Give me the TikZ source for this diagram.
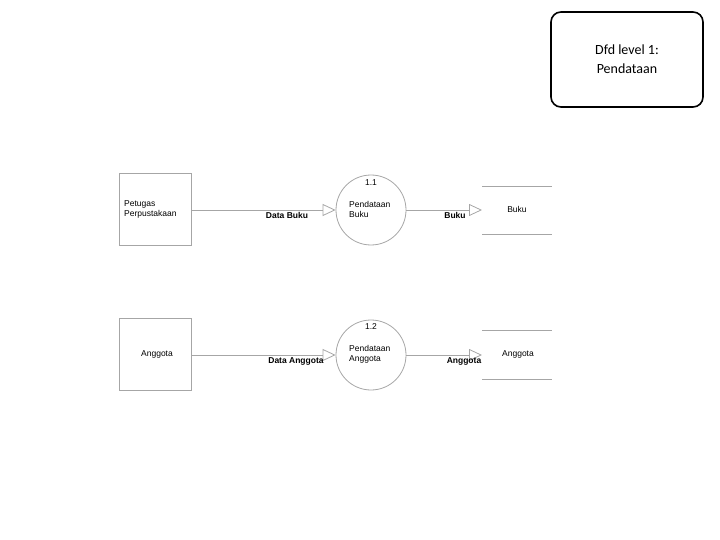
\documentclass[tikz,border=0pt]{standalone}
\usepackage{fontspec}
\setmainfont{Liberation Sans}
\newfontfamily\calib{Carlito}
\usetikzlibrary{arrows.meta}
\begin{document}
\begin{tikzpicture}[x=1pt,y=-1pt,
  ent/.style={draw=gray!70,line width=0.8pt,minimum width=72pt,minimum height=72pt,inner sep=0pt},
  proc/.style={draw=gray!70,line width=0.8pt,circle,minimum size=70pt,inner sep=0pt},
  flow/.style={draw=gray!70,line width=0.8pt,-{Triangle[open,length=13pt,width=12pt]}},
  sline/.style={draw=gray!70,line width=0.8pt},
  txt/.style={font=\fontsize{8.5}{10}\selectfont,inner sep=0pt,align=left},
  lbl/.style={font=\bfseries\fontsize{8.5}{10}\selectfont,inner sep=0pt}]
\useasboundingbox (0,0) rectangle (720,540);
\node[draw,line width=1.6pt,rounded corners=10pt,minimum width=152pt,minimum height=95pt,
  font=\calib\fontsize{14}{19}\selectfont,align=center] (title) at (627,59.5) {Dfd level 1:\\Pendataan};
% row 1
\node[ent] (e1) at (155,209) {};
\node[txt,anchor=west] (e1t) at (124,209) {Petugas\\Perpustakaan};
\node[proc] (p1) at (371,210) {};
\node[txt] (p1n) at (371,183) {1.1};
\node[txt,anchor=west] (p1t) at (349,209.5) {Pendataan\\Buku};
\coordinate (s1) at (482,210);
\coordinate (s1a) at (482,186); \coordinate (s1b) at (552,186);
\coordinate (s1c) at (482,234); \coordinate (s1d) at (552,234);
\draw[sline] (s1a) -- (s1b); \draw[sline] (s1c) -- (s1d);
\node[txt] (s1t) at (517,209) {Buku};
\draw[flow] (e1.east |- p1.west) -- (p1.west);
\draw[flow] (p1.east) -- (s1);
\node[lbl] (l1) at (287,215) {Data Buku};
\node[lbl] (l2) at (455,215) {Buku};
% row 2
\node[ent] (e2) at (155,354) {};
\node[txt] (e2t) at (157,354) {Anggota};
\node[proc] (p2) at (371,355) {};
\node[txt] (p2n) at (371,327) {1.2};
\node[txt,anchor=west] (p2t) at (349,354.5) {Pendataan\\Anggota};
\coordinate (s2) at (482,355);
\coordinate (s2a) at (482,330); \coordinate (s2b) at (552,330);
\coordinate (s2c) at (482,379); \coordinate (s2d) at (552,379);
\draw[sline] (s2a) -- (s2b); \draw[sline] (s2c) -- (s2d);
\node[txt] (s2t) at (518,354) {Anggota};
\draw[flow] (e2.east |- p2.west) -- (p2.west);
\draw[flow] (p2.east) -- (s2);
\node[lbl] (l3) at (296,361) {Data Anggota};
\node[lbl] (l4) at (464,361) {Anggota};
\end{tikzpicture}
\end{document}
